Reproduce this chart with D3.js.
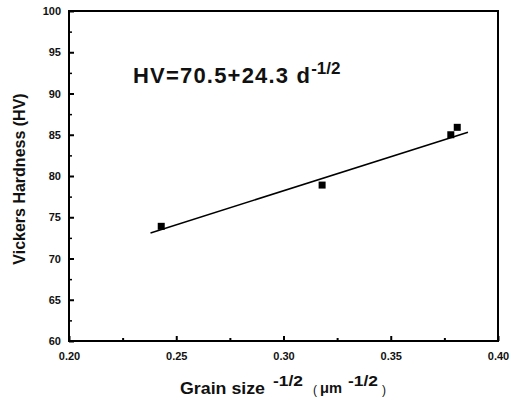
<!DOCTYPE html>
<html>
<head>
<meta charset="utf-8">
<script src="https://cdn.jsdelivr.net/npm/d3@7"></script>
<style>
body { margin: 0; background: #fff; }
text { font-family: "Liberation Sans", Arial, sans-serif; }
</style>
</head>
<body>
<div id="chart"></div>
<script>
// measured points
var grainSize = [0.243, 0.318, 0.378, 0.381];
var hardness = [73.9, 78.9, 85.0, 85.9];
// linear fit line end points
var fitX = [0.238, 0.386];
var fitY = [73.1, 85.3];
var xTicks = [0.20, 0.25, 0.30, 0.35, 0.40];
var yTicks = [60, 65, 70, 75, 80, 85, 90, 95, 100];

var margin = {top: 11, right: 16, bottom: 60, left: 69},
width = 514 - margin.left - margin.right,
height = 401 - margin.top - margin.bottom;

var root = d3.select("#chart")
.append("svg")
.attr("width", 514)
.attr("height", 401);

var svg = root.append("g")
.attr("transform", "translate(" + margin.left + "," + margin.top + ")");

var x = d3.scaleLinear().domain([0.20, 0.40]).range([0, width]);
var y = d3.scaleLinear().domain([60, 100]).range([height, 0]);

// minor ticks
var xMinor = d3.range(0.225, 0.40, 0.05);
var yMinor = d3.range(62.5, 100, 5);

svg.append("g")
.attr("transform", "translate(0," + height + ")")
.call(d3.axisBottom(x).tickValues(xMinor).tickSize(-3).tickFormat(""))
.call(function(g) { g.select(".domain").remove(); })
.selectAll("line").attr("stroke-width", 2);

svg.append("g")
.call(d3.axisLeft(y).tickValues(yMinor).tickSize(-3).tickFormat(""))
.call(function(g) { g.select(".domain").remove(); })
.selectAll("line").attr("stroke-width", 1.5);

var xAxis = svg.append("g")
.attr("transform", "translate(0," + height + ")")
.call(d3.axisBottom(x).tickValues(xTicks).tickSize(-5).tickPadding(11).tickFormat(d3.format(".2f")));
xAxis.select(".domain").remove();
xAxis.selectAll("line").attr("stroke-width", 2);
xAxis.selectAll("text")
.style("font-size", "11px").style("font-weight", "bold").attr("fill", "#111");

var yAxis = svg.append("g")
.call(d3.axisLeft(y).tickValues(yTicks).tickSize(-5).tickPadding(8));
yAxis.select(".domain").remove();
yAxis.selectAll("line").attr("stroke-width", 2);
yAxis.selectAll("text")
.style("font-size", "11px").style("font-weight", "bold").attr("fill", "#111");

// frame
svg.append("rect")
.attr("x", 0).attr("y", 0)
.attr("width", width).attr("height", height)
.attr("fill", "none").attr("stroke", "#000").attr("stroke-width", 2);

// fit line
svg.append("line")
.attr("x1", x(fitX[0])).attr("y1", y(fitY[0]))
.attr("x2", x(fitX[1])).attr("y2", y(fitY[1]))
.attr("stroke", "#000").attr("stroke-width", 1.5);

// points
svg.selectAll(".pt")
.data(grainSize)
.enter().append("rect")
.attr("class", "pt")
.attr("x", function(d) { return x(d) - 3.5; })
.attr("y", function(d, i) { return y(hardness[i]) - 3.5; })
.attr("width", 7).attr("height", 7)
.attr("fill", "#000");

// equation
var eq = svg.append("text")
.attr("x", 64).attr("y", 72)
.style("font-size", "22px").style("font-weight", "bold")
.attr("fill", "#111");
eq.append("tspan").attr("textLength", 177).attr("lengthAdjust", "spacing").text("HV=70.5+24.3 d");
eq.append("tspan").attr("dy", -9).style("font-size", "17px").text("-1/2");

// axis titles
svg.append("text")
.attr("transform", "translate(-44," + (height / 2 + 3) + ")rotate(-90)")
.style("text-anchor", "middle")
.style("font-size", "16px").style("font-weight", "bold")
.attr("fill", "#111")
.text("Vickers Hardness (HV)");

var xTitle = root.append("g").attr("fill", "#111").style("font-weight", "bold");
xTitle.append("text").attr("x", 180).attr("y", 394)
.style("font-size", "16px").attr("textLength", 85).attr("lengthAdjust", "spacingAndGlyphs")
.text("Grain size");
xTitle.append("text").attr("x", 273).attr("y", 386)
.style("font-size", "15px").attr("textLength", 30).attr("lengthAdjust", "spacingAndGlyphs")
.text("-1/2");
xTitle.append("text").attr("x", 313).attr("y", 394)
.style("font-size", "12px").style("font-weight", "normal")
.text("(");
xTitle.append("text").attr("x", 320).attr("y", 393)
.style("font-size", "15px").attr("textLength", 22).attr("lengthAdjust", "spacingAndGlyphs")
.text("\u03bcm");
xTitle.append("text").attr("x", 348).attr("y", 386)
.style("font-size", "15px").attr("textLength", 30).attr("lengthAdjust", "spacingAndGlyphs")
.text("-1/2");
xTitle.append("text").attr("x", 382).attr("y", 394)
.style("font-size", "12px").style("font-weight", "normal")
.text(")");
</script>
</body>
</html>
